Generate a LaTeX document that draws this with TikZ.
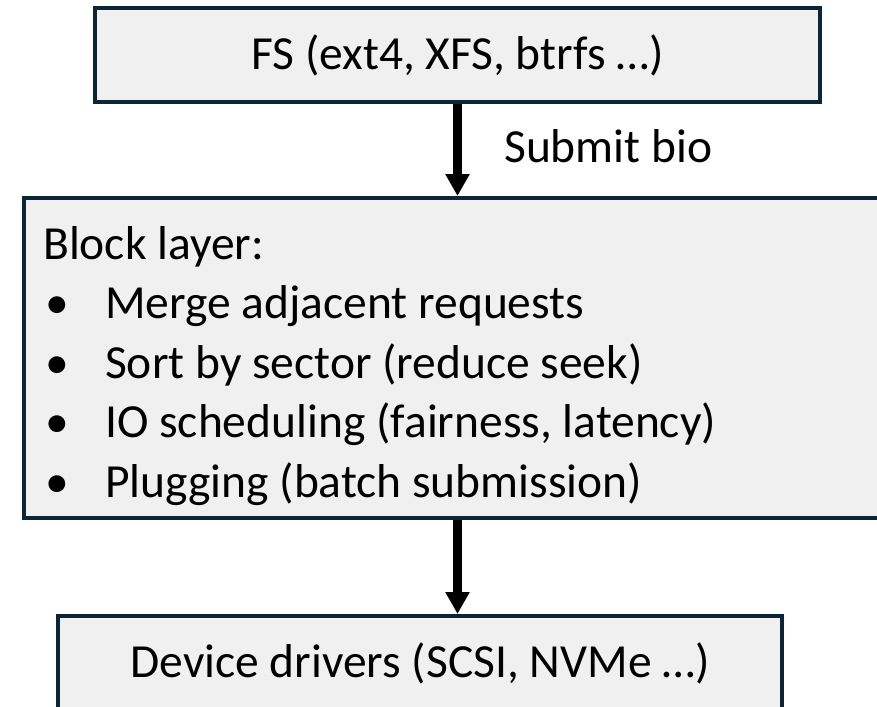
\documentclass[tikz,border=0pt]{standalone}
\usepackage{fontspec}
\setmainfont{Carlito}
\usetikzlibrary{arrows.meta}
\definecolor{bd}{HTML}{0B2538}
\definecolor{bx}{HTML}{F0F0F0}
\tikzset{
  layerbox/.style={draw=bd, fill=bx, line width=4pt, inner sep=0pt},
  bigtxt/.style={font=\fontsize{47.5}{59.5}\selectfont, inner sep=0pt},
  flowarrow/.style={line width=9pt, -{Triangle[width=23pt,length=22pt]}}
}
\begin{document}
\begin{tikzpicture}[x=1pt,y=-1pt]
\useasboundingbox (0,0) rectangle (877,706);
% boxes
\node[layerbox, minimum width=725pt, minimum height=94pt, bigtxt] (fs) at (457.5,55) {FS (ext4, XFS, btrfs …)};
\node[layerbox, anchor=north west, minimum width=880pt, minimum height=320pt] (blk) at (22,196) {};
\node[layerbox, minimum width=724pt, minimum height=94pt, bigtxt] (dev) at (420,663) {Device drivers (SCSI, NVMe …)};
% block layer text
\node[bigtxt, anchor=base west] (blktxt) at (43,259) {%
\begin{tabular}[t]{@{}p{62pt}@{}l@{}}
\multicolumn{2}{@{}l@{}}{Block layer:}\\
\hspace{2pt}•& Merge adjacent requests\\
\hspace{2pt}•& Sort by sector (reduce seek)\\
\hspace{2pt}•& IO scheduling (fairness, latency)\\
\hspace{2pt}•& Plugging (batch submission)
\end{tabular}};
% arrows
\draw[flowarrow] (fs.south) -- (fs.south |- blk.north);
\draw[flowarrow] (fs.south |- blk.south) -- (fs.south |- dev.north);
\node[bigtxt, anchor=base west] (sub) at (504,162) {Submit bio};
\end{tikzpicture}
\end{document}
